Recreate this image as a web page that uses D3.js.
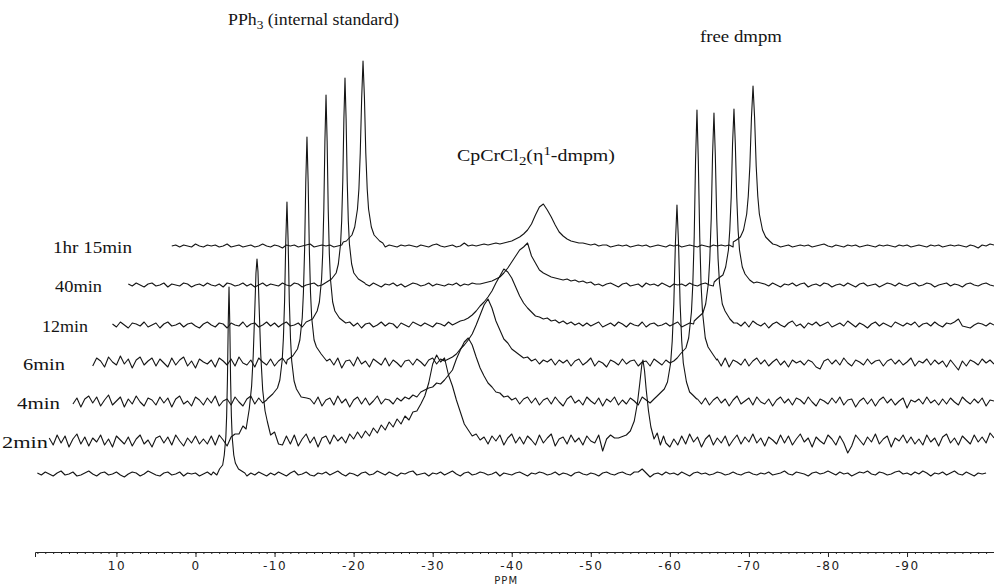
<!DOCTYPE html>
<html><head><meta charset="utf-8">
<script src="https://cdn.jsdelivr.net/npm/d3@7"></script>
<style>body{margin:0;background:#fff}svg{display:block}</style>
</head><body>
<svg id="c" width="994" height="585"></svg>
<script>
// ---------------- data ----------------
const traceLabels = ["", "2min", "4min", "6min", "12min", "40min", "1hr 15min"];
const traceOffsets = [0, 33, 72, 111, 149, 189, 228];      // intensity units
const traceStarts = [20.0, 18.5, 15.5, 13.0, 10.5, 8.5, 3.0]; // ppm of first sample
const gridStep = 0.5;                                       // ppm between samples
const axisDomain = [20.3, -101];
const axisMajorTicks = [10, 0, -10, -20, -30, -40, -50, -60, -70, -80, -90];
const axisTitle = "PPM";

const gridBottom = [
1,-1,2,0,-2,1,3,-1,0,2,-2,-1,1,3,0,-2,1,2,-1,0,
2,-1,-3,0,2,1,-2,0,3,1,-1,-2,1,2,-1,0,2,-2,1,0,
1,-2,0,2,-1,0,0,0,0,0,0,0,0,-2,1,-1,2,0,-2,1,
-1,2,0,-2,1,3,-1,0,2,-1,-2,1,0,2,-1,1,3,0,-2,1,
0,-2,1,2,-1,0,3,1,-1,2,0,-2,1,0,2,3,-1,0,1,-2,
1,0,2,-1,1,3,0,-2,1,2,-1,0,2,1,-1,0,2,-2,1,0,
-1,1,2,0,-2,1,0,2,1,-1,0,2,-1,1,0,-2,1,2,0,-1,
1,0,-2,1,2,0,-1,1,2,0,-1,2,2,5,1,-3,0,1,-1,2,
0,1,-1,2,0,-2,1,2,0,1,-1,0,2,1,-1,0,2,0,-1,1,
2,0,-1,1,0,2,-1,0,1,3,0,-1,2,1,0,-2,1,2,0,1,
3,1,-1,2,0,1,-2,0,2,1,3,0,-1,2,1,-1,0,2,3,0,
1,-1,2,0,3,1,-2,1,0,2,-1,1,3,0,-1,2,0,-2,1,0,
1];
const grid2min = [
3,-4,6,-2,5,-6,2,7,-3,4,-5,3,-1,6,-4,2,-6,5,1,-3,
4,-5,2,6,-3,1,-6,3,5,-2,4,-4,6,0,-5,3,-2,5,-3,2,
-3,5,-4,6,1,-5,4,7,0,0,0,0,0,0,0,0,0,0,0,-4,
5,-3,6,-5,2,7,-2,4,-6,3,5,-3,6,0,4,-2,7,2,9,3,
10,5,13,8,16,11,19,14,22,17,25,21,29,30,37,45,58,77,86,79,
83,66,55,41,29,17,11,5,7,1,4,-3,5,0,6,-4,3,7,-2,4,
-3,5,1,-4,6,-2,3,7,-5,2,4,-3,6,-1,3,-4,5,0,-2,6,
-10,2,6,3,0,0,0,0,0,0,0,0,0,0,0,0,0,-6,2,-4,
5,-3,7,-1,4,-6,2,6,-4,3,-2,5,-5,1,6,-3,4,-1,7,-2,
3,-5,4,1,-3,6,-2,5,-4,2,7,-1,3,-6,4,0,-3,6,2,-4,
5,-2,-12,-5,6,1,-4,4,-1,7,-3,2,5,-6,3,0,6,-2,4,-3,
2,-4,6,-1,3,-5,4,7,-2,3,-4,5,1,-3,6,-1,4,-2,8,3];
const grid4min = [
-2,4,-5,3,6,-1,5,-4,2,7,-3,1,5,-5,3,-2,6,0,-4,4,
2,-3,5,-1,4,-5,3,6,-2,1,-4,5,2,-3,4,-1,6,-4,1,3,
-3,5,0,-4,3,6,-2,4,-1,2,0,0,0,0,0,0,0,0,0,0,
3,-2,5,-4,2,4,-3,6,-1,3,-5,2,5,-2,4,-3,1,6,-2,3,
2,-2,4,1,5,3,7,5,10,12,14,15,19,18,22,27,32,43,52,60,
64,57,45,34,26,19,15,10,9,5,6,2,4,-2,3,5,-1,4,-3,2,
4,-2,5,0,-4,3,6,-1,2,-3,5,1,-2,4,-4,3,0,5,-3,2,
-2,4,1,-3,5,2,-1,3,0,0,0,0,0,0,0,0,0,0,3,-2,
4,-3,2,5,-1,3,-4,2,6,-2,1,4,-3,5,0,-2,3,-4,2,5,
-1,3,-3,4,2,-2,5,0,-4,3,1,-2,4,-1,5,-3,2,3,-5,1,
4,-2,3,-4,2,5,-1,3,-3,1,4,-6,2,0,3,-2,5,-1,2,-3,
3,-2,4,0,-3,5,1,-2,3,-1,4,-4,2,1];
const grid6min = [
-3,5,2,-4,6,1,-2,7,-1,4,-5,3,6,-2,2,5,-3,4,0,-4,
5,-2,3,6,-3,2,-5,4,1,-1,3,-4,5,2,-2,4,-3,6,0,-2,
3,-4,5,1,-2,4,-3,2,5,-1,0,0,0,0,0,0,0,0,0,0,
4,-2,5,-5,2,3,-3,6,-1,2,-4,4,1,-2,5,-3,3,0,-4,2,
3,-2,4,1,-3,3,5,-1,4,2,4,6,9,14,18,23,29,38,48,58,
64,55,42,33,24,20,14,11,8,5,6,2,4,-1,3,1,4,-2,3,0,
3,-3,2,4,-2,1,5,-3,2,0,-4,3,1,-2,4,-1,2,3,-3,1,
2,-3,4,1,-2,3,0,2,0,0,0,0,0,0,0,0,0,0,4,-3,
5,-4,3,1,-2,4,-3,2,5,-1,3,-3,1,4,-2,2,-4,3,0,2,
-2,3,1,-4,-6,2,4,-1,3,-2,5,0,-3,3,1,-2,4,-1,2,3,
-3,2,4,-1,3,-2,1,5,-3,2,0,4,-2,3,-1,2,-4,3,-2,-7,
2,-3,3,1,-2,4,0,3,-1];
const grid12min = [
1,-2,3,0,-3,2,1,-1,3,-2,0,2,-3,1,3,-1,0,2,-2,1,
2,-1,-3,1,3,0,-2,2,1,-3,2,0,-1,3,-2,1,2,-2,0,3,
-1,2,-2,1,3,-1,0,2,-2,0,0,0,0,0,0,0,0,0,0,0,
3,-1,2,-3,1,2,-2,0,3,-1,2,1,-3,2,0,-2,3,1,-1,2,
0,-2,2,1,-1,3,0,2,4,5,7,10,14,19,23,28,34,42,49,56,
53,47,38,29,22,17,13,9,8,6,7,4,5,2,4,1,3,0,2,-1,
2,-1,1,3,-2,0,2,-1,3,1,-2,2,0,-1,3,-2,1,2,-1,0,
2,-1,1,3,-2,0,2,1,0,0,0,0,0,0,0,0,0,0,2,-1,
3,-2,4,1,-1,2,-3,1,3,0,-2,2,4,-1,1,-3,2,0,3,-1,
1,3,-2,0,2,-1,4,1,-2,2,0,-3,1,3,-1,2,0,-2,3,1,
-1,2,0,3,-2,1,2,-1,3,0,-2,2,1,3,6,-1,-2,-3,0,2,
1,-1,2,0];
const grid40min = [
1,-1,2,0,-2,1,2,-1,0,2,-2,1,0,-1,2,1,-2,0,1,-1,
2,0,-1,1,-2,2,1,-1,0,2,-1,1,-2,0,2,-1,1,0,-1,2,
0,-1,2,1,-2,0,1,2,-1,0,0,0,0,0,0,0,0,0,0,0,
1,-1,2,0,-2,1,0,2,-1,1,-2,0,2,1,-1,0,2,-1,1,0,
-1,1,0,2,-1,1,0,2,1,1,2,3,4,6,8,12,17,23,29,35,
38,42,29,22,15,12,10,8,7,6,5,6,4,5,3,4,2,3,0,1,
-1,1,2,0,-2,1,2,-1,0,1,-2,2,0,1,-1,2,0,-2,1,0,
1,-1,2,0,-1,1,2,0,-1,0,0,0,0,0,0,0,0,0,0,3,
2,1,-1,2,0,-2,1,0,2,-1,1,2,-2,0,1,-1,2,1,-2,0,
1,-1,2,0,-2,1,2,-1,0,1,-2,0,2,1,-1,2,0,-1,1,2,
-1,0,2,1,-2,0,1,2,-1,1,0,-2,1,2,0,-1,1,2,0,-1];
const grid1hr15 = [
0,1,-1,1,0,-1,2,0,-1,1,0,1,-1,0,2,-1,0,1,-1,0,
1,-1,0,2,0,-1,1,0,-2,1,0,1,-1,0,1,2,-1,0,1,0,
1,-1,0,1,0,0,0,0,0,0,0,0,0,0,-1,1,0,-1,1,0,
1,0,-1,1,0,-1,1,2,0,-1,0,1,-1,0,3,0,1,0,1,2,
1,2,3,2,3,4,5,7,9,12,16,22,31,39,42,36,29,21,14,10,
7,5,4,3,3,2,1,2,0,1,1,-1,0,1,0,1,-1,0,1,0,
1,-1,0,1,0,-1,1,0,1,-1,0,1,0,-1,1,0,-1,1,0,1,
0,1,-1,0,0,0,0,0,0,0,0,0,0,1,-1,0,1,-1,0,1,
0,1,-1,0,1,2,0,-1,1,0,-1,1,0,1,-1,0,1,0,-1,1,
0,1,0,-1,1,0,1,-1,0,1,0,-1,1,0,1,-1,0,1,0,1,
0,-1,1,0,-2,1,0,2,1];

// sharp peaks: [ppm, intensity above the trace baseline]
const peaksBottom = [
 [[-2.24,2],[-2.7,-1],[-3.04,5],[-3.44,9],[-3.64,19],[-3.84,37],[-3.94,58],[-4.04,94],[-4.14,150],[-4.24,187],[-4.34,150],[-4.44,94],[-4.54,58],[-4.64,37],[-4.84,19],[-5.04,11],[-5.44,5],[-6.24,1]]
];
const peaks2min = [
 [[-5.5,7],[-6.0,15],[-6.4,12],[-6.8,32],[-7.1,55],[-7.3,85],[-7.5,131],[-7.65,168],[-7.78,182],[-7.9,170],[-8.05,134],[-8.25,87],[-8.5,51],[-8.8,30],[-9.1,19],[-9.5,6],[-10.0,9],[-10.5,-3]],
 [[-53.5,3],[-54.5,6],[-55.0,10],[-55.5,20],[-55.9,38],[-56.2,58],[-56.45,76],[-56.6,81],[-56.8,70],[-57.0,52],[-57.3,30],[-57.6,14],[-58.0,2],[-58.4,8],[-58.8,-4],[-59.2,5],[-59.5,-2]]
];
const peaks4min = [
 [[-9.07,3],[-9.77,8],[-10.37,14],[-10.67,22],[-10.97,42],[-11.12,64],[-11.27,101],[-11.42,161],[-11.57,200],[-11.72,160],[-11.87,100],[-12.02,63],[-12.17,41],[-12.47,21],[-12.77,13],[-13.37,5],[-14.07,4]],
 [[-58.4,6],[-59.3,13],[-59.7,20],[-60.1,39],[-60.3,61],[-60.5,98],[-60.7,158],[-60.9,197],[-61.1,158],[-61.3,98],[-61.5,61],[-61.7,39],[-62.1,20],[-62.5,10],[-62.9,7],[-63.4,3]]
];
const peaks6min = [
 [[-11.6,3],[-12.3,7],[-12.9,14],[-13.2,23],[-13.5,45],[-13.65,70],[-13.8,113],[-13.95,181],[-14.1,226],[-14.25,181],[-14.4,113],[-14.55,70],[-14.7,45],[-15.0,23],[-15.3,16],[-15.9,9],[-16.6,2]],
 [[-60.93,5],[-61.33,9],[-62.03,15],[-62.38,25],[-62.73,51],[-62.9,78],[-63.08,126],[-63.25,202],[-63.43,253],[-63.6,202],[-63.78,126],[-63.95,78],[-64.13,51],[-64.48,25],[-64.83,16],[-65.5,8],[-65.93,3]]
];
const peaks12min = [
 [[-14.0,3],[-14.81,6],[-15.39,14],[-15.67,23],[-15.95,46],[-16.09,71],[-16.23,115],[-16.37,184],[-16.51,230],[-16.65,184],[-16.79,115],[-16.93,71],[-17.07,46],[-17.35,23],[-17.63,14],[-18.2,7],[-19.0,2]],
 [[-63.08,4],[-63.48,7],[-64.18,12],[-64.53,21],[-64.88,42],[-65.05,66],[-65.23,106],[-65.4,170],[-65.58,212],[-65.75,170],[-65.93,106],[-66.1,66],[-66.28,42],[-66.63,21],[-66.98,14],[-67.6,6],[-68.08,2]]
];
const peaks40min = [
 [[-16.41,2],[-17.21,6],[-17.79,12],[-18.07,21],[-18.35,41],[-18.49,64],[-18.63,104],[-18.77,166],[-18.91,207],[-19.05,166],[-19.19,104],[-19.33,64],[-19.47,41],[-19.75,21],[-20.03,12],[-20.6,6],[-21.41,2]],
 [[-65.61,3],[-66.01,6],[-66.71,10],[-67.06,18],[-67.41,35],[-67.58,55],[-67.76,88],[-67.93,141],[-68.11,176],[-68.28,141],[-68.46,88],[-68.63,55],[-68.81,35],[-69.16,18],[-69.51,11],[-70.1,5],[-70.61,2]]
];
const peaks1hr15 = [
 [[-18.69,4],[-19.09,5],[-19.79,11],[-20.14,19],[-20.49,37],[-20.67,57],[-20.84,93],[-21.02,148],[-21.19,185],[-21.37,148],[-21.54,93],[-21.72,57],[-21.89,37],[-22.24,19],[-22.59,11],[-23.29,5],[-23.69,3]],
 [[-68.02,4],[-68.42,6],[-68.92,9],[-69.32,16],[-69.72,32],[-69.92,50],[-70.12,80],[-70.32,128],[-70.52,160],[-70.72,128],[-70.92,80],[-71.12,50],[-71.32,32],[-71.72,16],[-72.12,9],[-72.62,5],[-73.02,2]]
];

const traceGrids = [gridBottom, grid2min, grid4min, grid6min, grid12min, grid40min, grid1hr15];
const tracePeaks = [peaksBottom, peaks2min, peaks4min, peaks6min, peaks12min, peaks40min, peaks1hr15];

// ---------------- drawing ----------------
const svg = d3.select("#c");
const W = 994, H = 585;
svg.append("rect").attr("width", W).attr("height", H).attr("fill", "#fff");

const x = d3.scaleLinear().domain(axisDomain).range([35, 994]);
const y = d3.scaleLinear().domain([0, 400]).range([474, 74]);
const ink = "#141414";
const serif = "Liberation Serif, Times New Roman, serif";

function buildTrace(grid, start, peaks) {
  const ranges = peaks.map(pk => d3.extent(pk, d => d[0]));
  const pts = [];
  grid.forEach((v, i) => {
    const p = start - i * gridStep;
    if (ranges.some(([lo, hi]) => p >= lo - 1e-9 && p <= hi + 1e-9)) return;
    pts.push([p, v]);
  });
  peaks.forEach(pk => pk.forEach(d => pts.push(d)));
  pts.sort((a, b) => b[0] - a[0]);
  return pts;
}

const gTraces = svg.append("g");
traceGrids.forEach((grid, k) => {
  const pts = buildTrace(grid, traceStarts[k], tracePeaks[k]);
  const off = traceOffsets[k];
  const line = d3.line().x(d => x(d[0])).y(d => y(off + d[1]));
  gTraces.append("path").datum(pts)
    .attr("d", line).attr("fill", "none")
    .attr("stroke", ink).attr("stroke-width", 1.1)
    .attr("stroke-linejoin", "round");
});

// stretch a text horizontally so it spans the wanted width
function fitText(sel, x0, y0, width) {
  const w = sel.node().getComputedTextLength();
  sel.attr("transform", `translate(${x0},${y0}) scale(${width / w},1)`);
}

// trace labels
const labelX = [0, 2, 17, 23, 42, 55, 53];
const labelW = [0, 46, 43, 42, 46, 47, 79];
traceLabels.forEach((t, k) => {
  if (!t) return;
  const s = svg.append("text")
    .attr("font-family", serif).attr("font-size", 16.5).attr("fill", ink)
    .text(t);
  fitText(s, labelX[k], y(traceOffsets[k]) + 7, labelW[k]);
});

// annotations
const t1 = svg.append("text").attr("font-family", serif).attr("font-size", 16).attr("fill", ink);
t1.append("tspan").text("PPh");
t1.append("tspan").attr("dy", 4).attr("font-size", 12).text("3");
t1.append("tspan").attr("dy", -4).text(" (internal standard)");
fitText(t1, 228, 25, 171);

const t2 = svg.append("text").attr("font-family", serif).attr("font-size", 16).attr("fill", ink);
t2.append("tspan").text("CpCrCl");
t2.append("tspan").attr("dy", 4).attr("font-size", 12).text("2");
t2.append("tspan").attr("dy", -4).text("(η");
t2.append("tspan").attr("dy", -6).attr("font-size", 12).text("1");
t2.append("tspan").attr("dy", 6).text("-dmpm)");
fitText(t2, 457, 161, 158);

const t3 = svg.append("text").attr("font-family", serif).attr("font-size", 16).attr("fill", ink)
  .text("free dmpm");
fitText(t3, 700, 42, 82);

// axis
const axisY = 552;
const gAx = svg.append("g").attr("transform", `translate(0,${axisY})`);
gAx.call(d3.axisBottom(x).tickValues(d3.range(20, -101, -1)).tickSize(2).tickSizeOuter(0).tickFormat(""));
gAx.call(g => g.select(".domain").remove());
const gMaj = svg.append("g").attr("transform", `translate(0,${axisY})`);
gMaj.call(d3.axisBottom(x).tickValues(axisMajorTicks).tickSize(5).tickSizeOuter(5)
  .tickPadding(4).tickFormat(d => String(d)));
gMaj.selectAll("text").attr("font-family", "DejaVu Sans, sans-serif")
  .attr("font-size", 12).attr("letter-spacing", "1.5px").attr("fill", "#222");
svg.selectAll(".tick line, .domain").attr("stroke", "#222");
svg.append("text").attr("x", x(-39.3)).attr("y", 584)
  .attr("text-anchor", "middle").attr("font-family", "DejaVu Sans, sans-serif")
  .attr("font-size", 10).attr("letter-spacing", "1px").attr("fill", "#222").text(axisTitle);
</script>
</body></html>
